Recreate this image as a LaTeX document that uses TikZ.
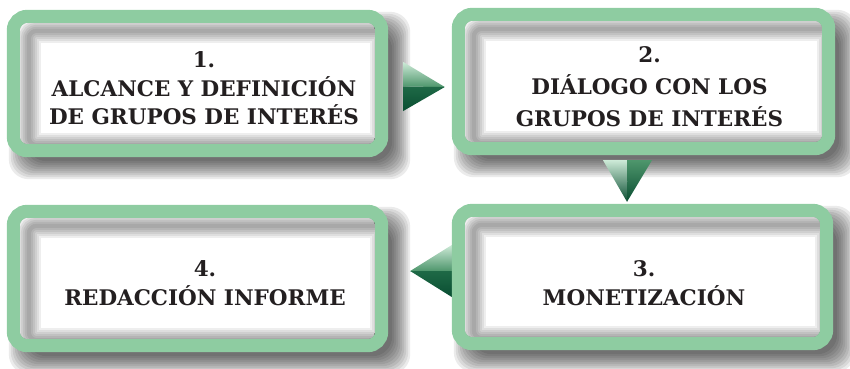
\documentclass[tikz,border=0pt]{standalone}
\usepackage{fontspec}
\setmainfont{DejaVu Serif}
\usetikzlibrary{calc}
\definecolor{framegreen}{RGB}{142,204,161}
\definecolor{lgreen}{RGB}{205,234,215}
\definecolor{mgreen}{RGB}{78,150,108}
\definecolor{dgreen}{RGB}{10,78,50}
\definecolor{ddgreen}{RGB}{30,105,70}
\definecolor{inktext}{RGB}{35,31,32}
\tikzset{
  boxarea/.style={draw=none, inner sep=0pt},
  shadowlayer/.style={fill=black, opacity=0.08, rounded corners=20pt},
  innerlayer/.style={draw=black, opacity=0.065, rounded corners=8pt},
  framestroke/.style={draw=framegreen, line width=13pt, rounded corners=14pt},
  labeltext/.style={align=center, inner sep=0pt, text=inktext,
     font=\bfseries\fontsize{21.5}{#1}\selectfont},
}
\newcommand\dropshadow[1]{%
  \foreach \e in {0,2,...,18}{%
    \fill[shadowlayer] ($(#1.north west)+(20-\e,20-\e)$) rectangle ($(#1.south east)+(4+\e,4+\e)$);
  }}
\newcommand\panel[1]{%
  \begin{scope}
    \clip[rounded corners=8pt] ($(#1.north west)+(13,13)$) rectangle ($(#1.south east)+(-13,-13)$);
    \fill[white] ($(#1.north west)+(13,13)$) rectangle ($(#1.south east)+(-13,-13)$);
    \foreach \w in {4,8,...,24}{%
      \draw[innerlayer, line width=\w pt] ($(#1.north west)+(22,21)$) rectangle ($(#1.south east)+(-6,-12)$);
    }
  \end{scope}
  \draw[framestroke] ($(#1.north west)+(6.5,6.5)$) rectangle ($(#1.south east)+(-6.5,-6.5)$);}
\begin{document}
\begin{tikzpicture}[x=1pt, y=-1pt]
\useasboundingbox (0,0) rectangle (850,368);
% box areas
\node[boxarea, minimum width=381pt, minimum height=147pt] (b1) at (197.5,83.5) {};
\node[boxarea, minimum width=383pt, minimum height=147pt] (b2) at (643.5,81.5) {};
\node[boxarea, minimum width=381pt, minimum height=146pt] (b3) at (642.5,277) {};
\node[boxarea, minimum width=381pt, minimum height=147pt] (b4) at (197.5,278.5) {};
% shadows
\dropshadow{b1}
\dropshadow{b2}
\dropshadow{b3}
\dropshadow{b4}
% arrow coordinates
\coordinate (r1) at ($(b1.east)+(15,-21.5)$);
\coordinate (r2) at ($(b1.east)+(15,27.5)$);
\coordinate (rm) at ($(b1.east)+(15,3)$);
\coordinate (rt) at ($(b2.west)+(-7,5.5)$);
\coordinate (d1) at ($(b2.south)+(-40.5,5)$);
\coordinate (d2) at ($(b2.south)+(8.5,5)$);
\coordinate (dm) at ($(b2.south)+(-16,5)$);
\coordinate (dt) at ($(b3.north)+(-15.5,-2)$);
\coordinate (l1) at ($(b3.west)+(0,-32)$);
\coordinate (l2) at ($(b3.west)+(0,20)$);
\coordinate (lm) at ($(b3.west)+(0,-6)$);
\coordinate (lt) at ($(b4.east)+(22,-7.5)$);
% arrows
\shade[top color=lgreen, bottom color=mgreen] (r1) -- (rt) -- (rm) -- cycle;
\shade[top color=ddgreen, bottom color=dgreen] (rm) -- (rt) -- (r2) -- cycle;
\shade[top color=lgreen, bottom color=dgreen] (d1) -- (dm) -- (dt) -- cycle;
\shade[top color=mgreen, bottom color=dgreen] (dm) -- (d2) -- (dt) -- cycle;
\shade[top color=lgreen, bottom color=mgreen] (l1) -- (lm) -- (lt) -- cycle;
\shade[top color=ddgreen, bottom color=dgreen] (lm) -- (l2) -- (lt) -- cycle;
% panels
\panel{b1}
\panel{b2}
\panel{b3}
\panel{b4}
% texts
\node[labeltext=28.5] (t1) at ($(b1.center)+(6.5,5)$) {1.\\ALCANCE Y DEFINICIÓN\\DE GRUPOS DE INTERÉS};
\node[labeltext=32] (t2) at ($(b2.center)+(6,5)$) {2.\\DIÁLOGO CON LOS\\GRUPOS DE INTERÉS};
\node[labeltext=29] (t3) at ($(b3.center)+(1.5,6.5)$) {3.\\MONETIZACIÓN};
\node[labeltext=29] (t4) at ($(b4.center)+(7.5,5)$) {4.\\REDACCIÓN INFORME};
\end{tikzpicture}
\end{document}
